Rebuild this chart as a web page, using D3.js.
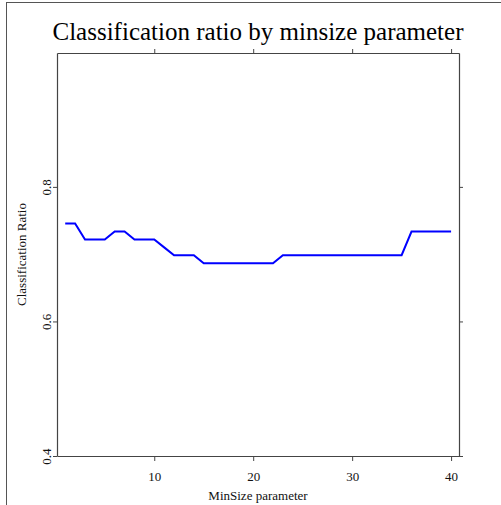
<!DOCTYPE html>
<html><head><meta charset="utf-8">
<script src="https://cdn.jsdelivr.net/npm/d3@7"></script>
<style>body{margin:0;background:#fff}svg{display:block}text{font-family:"Liberation Serif","Times New Roman",Times,serif}</style>
</head><body>
<script>
const minSize = [1,2,3,4,5,6,7,8,9,10,11,12,13,14,15,16,17,18,19,20,21,22,23,24,25,26,27,28,29,30,31,32,33,34,35,36,37,38,39,40];
const ratio = [0.7455,0.7455,0.7219,0.7219,0.7219,0.7337,0.7337,0.7219,0.7219,0.7219,
  0.7101,0.6984,0.6984,0.6984,0.6866,0.6866,0.6866,0.6866,0.6866,0.6866,
  0.6866,0.6866,0.6984,0.6984,0.6984,0.6984,0.6984,0.6984,0.6984,0.6984,
  0.6984,0.6984,0.6984,0.6984,0.6984,0.7337,0.7337,0.7337,0.7337,0.7337];
const xTicks = [10,20,30,40];
const yTicks = [0.4,0.6,0.8];
const title = "Classification ratio by minsize parameter";
const xLabel = "MinSize parameter";
const yLabel = "Classification Ratio";

const W = 501, H = 505;
const L = 57, R = 459, T = 53, B = 456;
const svg = d3.select("body").append("svg").attr("width", W).attr("height", H);

// outer frame
svg.append("line").attr("x1",6).attr("x2",W).attr("y1",2.5).attr("y2",2.5).attr("stroke","#555").attr("stroke-width",1);
svg.append("line").attr("x1",6.5).attr("x2",6.5).attr("y1",2.5).attr("y2",H).attr("stroke","#555").attr("stroke-width",1);

const x = d3.scaleLinear().domain([0.17, 40.8]).range([L, R]);
const y = d3.scaleLinear().domain([0.4, 0.999]).range([B, T]);

const ax = "#444";
const gB = svg.append("g").attr("transform",`translate(0,${B})`)
  .call(d3.axisBottom(x).tickValues(xTicks).tickSize(5).tickSizeOuter(0).tickFormat(d3.format("d")));
const gT = svg.append("g").attr("transform",`translate(0,${T})`)
  .call(d3.axisTop(x).tickValues(xTicks).tickSize(4).tickSizeOuter(0).tickFormat(""));
const gL = svg.append("g").attr("transform",`translate(${L},0)`)
  .call(d3.axisLeft(y).tickValues(yTicks).tickSize(4).tickSizeOuter(0).tickFormat(d3.format(".1f")));
const gR = svg.append("g").attr("transform",`translate(${R},0)`)
  .call(d3.axisRight(y).tickValues(yTicks).tickSize(4).tickSizeOuter(0).tickFormat(""));
[gB,gT,gL,gR].forEach(g=>{
  g.selectAll("path").attr("stroke",ax).attr("stroke-width",1.2);
  g.selectAll("line").attr("stroke",ax);
  g.selectAll("text").attr("font-family",null).attr("font-size",13).attr("fill","#111");
});
gB.selectAll(".tick text").attr("y",25).attr("dy",null);
gL.selectAll(".tick text").attr("text-anchor","middle").attr("x",null).attr("dy",null)
  .attr("transform","translate(-6,0) rotate(-90)");

// data line
svg.append("path").datum(minSize.map((m,i)=>[m,ratio[i]]))
  .attr("fill","none").attr("stroke","#0000ff").attr("stroke-width",2)
  .attr("d", d3.line().x(d=>x(d[0])).y(d=>y(d[1])));

svg.append("text").attr("x",(L+R)/2).attr("y",40).attr("text-anchor","middle")
  .attr("font-size",25).attr("fill","#000").text(title);
svg.append("text").attr("x",(L+R)/2).attr("y",500).attr("text-anchor","middle")
  .attr("font-size",13).attr("fill","#111").text(xLabel);
svg.append("text").attr("transform",`translate(26,${(T+B)/2}) rotate(-90)`).attr("text-anchor","middle")
  .attr("font-size",13).attr("fill","#111").text(yLabel);
</script>
</body></html>
